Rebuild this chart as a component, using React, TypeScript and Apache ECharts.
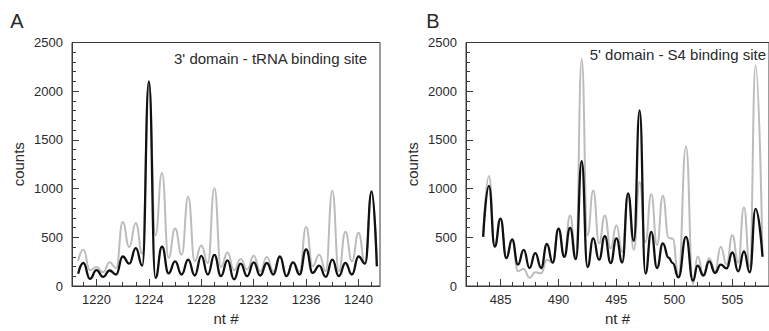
import React, { useEffect, useRef } from "react";
import * as echarts from "echarts";

// Panel A: 3' domain - tRNA binding site
const ntA = [1218.6, 1219, 1219.5, 1220, 1220.5, 1221, 1221.5, 1222, 1222.5, 1223, 1223.5, 1224, 1224.5, 1225, 1225.5, 1226, 1226.5, 1227, 1227.5, 1228, 1228.5, 1229, 1229.5, 1230, 1230.5, 1231, 1231.5, 1232, 1232.5, 1233, 1233.5, 1234, 1234.5, 1235, 1235.5, 1236, 1236.5, 1237, 1237.5, 1238, 1238.5, 1239, 1239.5, 1240, 1240.5, 1241, 1241.4];
const grayA = [260, 371, 162, 195, 141, 243, 185, 657, 400, 647, 330, 2090, 522, 1163, 290, 590, 320, 917, 253, 415, 236, 1004, 195, 344, 162, 276, 170, 310, 150, 297, 150, 300, 110, 245, 150, 607, 202, 320, 152, 977, 152, 556, 253, 546, 229, 965, 200];
const blackA = [125, 236, 74, 162, 94, 159, 118, 303, 229, 388, 209, 2100, 84, 404, 130, 253, 118, 270, 108, 310, 118, 320, 101, 263, 67, 229, 101, 243, 108, 236, 118, 303, 101, 243, 118, 377, 135, 209, 94, 270, 101, 236, 118, 303, 229, 971, 202];
const labelsA = [1220, 1224, 1228, 1232, 1236, 1240];
const minorA = [1219, 1220, 1221, 1222, 1223, 1224, 1225, 1226, 1227, 1228, 1229, 1230, 1231, 1232, 1233, 1234, 1235, 1236, 1237, 1238, 1239, 1240, 1241];

// Panel B: 5' domain - S4 binding site
const ntB = [483.5, 484, 484.5, 485, 485.5, 486, 486.5, 487, 487.5, 488, 488.5, 489, 489.5, 490, 490.5, 491, 491.5, 492, 492.5, 493, 493.5, 494, 494.5, 495, 495.5, 496, 496.5, 497, 497.5, 498, 498.5, 499, 499.5, 499.85, 500.35, 501, 501.6, 502, 502.5, 503, 503.5, 504, 504.5, 505, 505.5, 506, 506.5, 507, 507.6];
const grayB = [505, 1129, 410, 691, 290, 470, 152, 175, 84, 142, 130, 270, 240, 575, 310, 725, 300, 2330, 520, 980, 438, 725, 387, 623, 350, 945, 371, 1068, 450, 943, 420, 927, 495, 485, 105, 1432, 20, 303, 120, 286, 150, 404, 220, 522, 240, 809, 200, 2265, 300];
const blackB = [505, 1028, 404, 691, 286, 478, 220, 371, 185, 337, 185, 431, 240, 590, 300, 596, 276, 1281, 195, 489, 270, 512, 236, 489, 242, 950, 465, 1803, 128, 556, 185, 438, 290, 235, 88, 505, 55, 209, 108, 253, 135, 219, 180, 344, 150, 354, 140, 792, 300];
const labelsB = [485, 490, 495, 500, 505];
const minorB = [483, 484, 485, 486, 487, 488, 489, 490, 491, 492, 493, 494, 495, 496, 497, 498, 499, 500, 501, 502, 503, 504, 505, 506, 507];

const FONT = "'Liberation Sans', Arial, Helvetica, sans-serif";
const AXIS = "#3a3a3a";
const TEXT = "#2a2a2a";
const GRAY = "#bcbcbc";
const BLACK = "#111111";

const plain = (v: number) => String(v);

export default function App() {
  const ref = useRef<HTMLDivElement>(null);
  useEffect(() => {
    if (!ref.current) return;
    const chart = echarts.init(ref.current, null, { renderer: "svg" });

    const xMajor = (grid: number, min: number, max: number, labels: number[]) => ({
      type: "value",
      gridIndex: grid,
      position: "bottom",
      min,
      max,
      name: "nt #",
      nameLocation: "middle",
      nameGap: 25,
      nameTextStyle: { fontFamily: FONT, fontSize: 15, color: TEXT },
      axisLine: { show: true, lineStyle: { color: AXIS, width: 1 } },
      axisTick: { show: true, inside: true, length: 7, customValues: labels, lineStyle: { color: AXIS } },
      axisLabel: { show: true, customValues: labels, margin: 7, fontFamily: FONT, fontSize: 13, color: TEXT, formatter: plain },
      splitLine: { show: false },
    });
    const xMinor = (grid: number, min: number, max: number, ticks: number[]) => ({
      type: "value",
      gridIndex: grid,
      position: "bottom",
      min,
      max,
      axisLine: { show: false },
      axisTick: { show: true, inside: true, length: 4, customValues: ticks, lineStyle: { color: AXIS } },
      axisLabel: { show: false },
      splitLine: { show: false },
    });
    const yAx = (grid: number) => ({
      type: "value",
      gridIndex: grid,
      min: 0,
      max: 2500,
      interval: 500,
      name: "counts",
      nameLocation: "middle",
      nameGap: 46,
      nameTextStyle: { fontFamily: FONT, fontSize: 15, color: TEXT },
      axisLine: { show: true, lineStyle: { color: AXIS, width: 1 } },
      axisTick: { show: true, inside: true, length: 7, lineStyle: { color: AXIS } },
      minorTick: { show: true, splitNumber: 5, length: 4, lineStyle: { color: AXIS } },
      axisLabel: { margin: 9, fontFamily: FONT, fontSize: 13, color: TEXT, formatter: plain },
      splitLine: { show: false },
    });
    const line = (name: string, xi: number, yi: number, xs: number[], ys: number[], color: string, width: number) => ({
      type: "line",
      name,
      xAxisIndex: xi,
      yAxisIndex: yi,
      data: xs.map((x, i) => [x, ys[i]]),
      smooth: 0.5,
      smoothMonotone: "x",
      showSymbol: false,
      symbol: "none",
      lineStyle: { color, width },
      itemStyle: { color },
      silent: true,
      clip: true,
    });

    chart.setOption({
      animation: false,
      backgroundColor: "#ffffff",
      grid: [
        { left: 72, top: 42.5, width: 308, height: 247.5, show: true, borderColor: AXIS, borderWidth: 1, backgroundColor: "transparent" },
        { left: 466, top: 42.5, width: 310, height: 247.5, show: true, borderColor: AXIS, borderWidth: 1, backgroundColor: "transparent" },
      ],
      xAxis: [
        xMajor(0, 1218.13, 1241.64, labelsA),
        xMinor(0, 1218.13, 1241.64, minorA),
        xMajor(1, 482.02, 508.16, labelsB),
        xMinor(1, 482.02, 508.16, minorB),
      ],
      yAxis: [yAx(0), yAx(1)],
      series: [
        line("A gray", 0, 0, ntA, grayA, GRAY, 2),
        line("A black", 0, 0, ntA, blackA, BLACK, 2.3),
        line("B gray", 2, 1, ntB, grayB, GRAY, 2),
        line("B black", 2, 1, ntB, blackB, BLACK, 2.3),
      ],
      graphic: [
        { type: "text", x: 17, y: 21, style: { text: "A", fill: TEXT, fontFamily: FONT, fontSize: 20, textAlign: "center", textVerticalAlign: "middle" } },
        { type: "text", x: 433, y: 21, style: { text: "B", fill: TEXT, fontFamily: FONT, fontSize: 20, textAlign: "center", textVerticalAlign: "middle" } },
        { type: "text", x: 367, y: 58, style: { text: "3' domain - tRNA binding site", fill: TEXT, fontFamily: FONT, fontSize: 15, textAlign: "right", textVerticalAlign: "middle" } },
        { type: "text", x: 766, y: 54, style: { text: "5' domain - S4 binding site", fill: TEXT, fontFamily: FONT, fontSize: 15, textAlign: "right", textVerticalAlign: "middle" } },
      ],
    });
    return () => chart.dispose();
  }, []);
  return <div ref={ref} style={{ position: "fixed", left: 0, top: 0, width: 769, height: 331 }} />;
}
